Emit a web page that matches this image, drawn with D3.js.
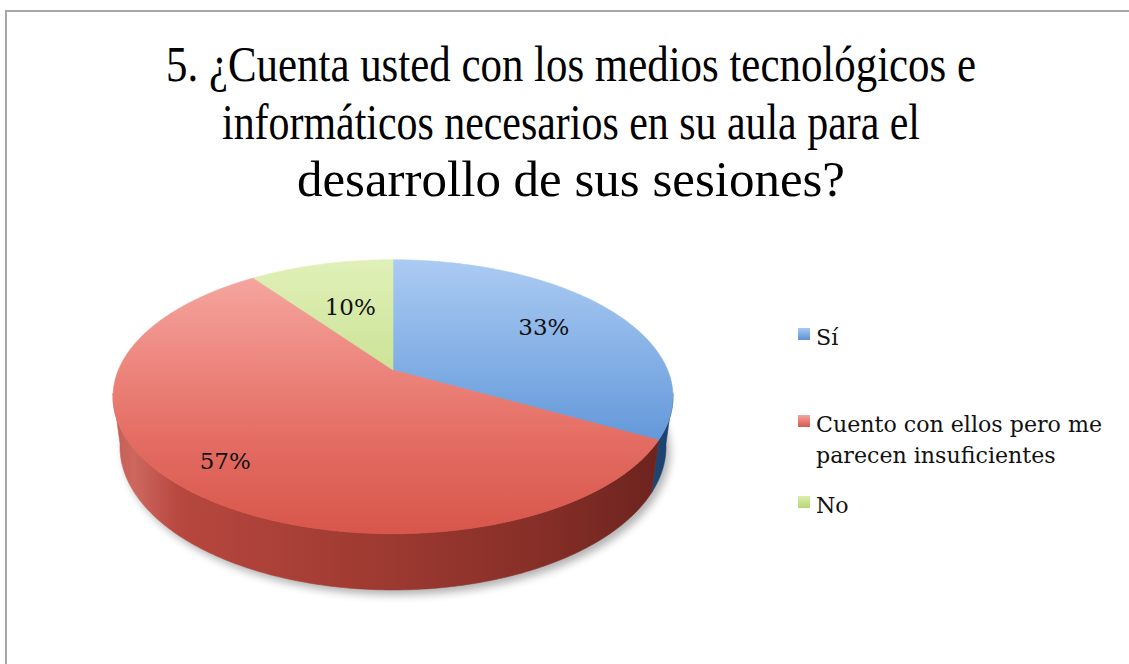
<!DOCTYPE html>
<html>
<head>
<meta charset="utf-8">
<script src="https://cdn.jsdelivr.net/npm/d3@7"></script>
<style>
  body { margin: 0; background: #fff; }
  svg { display: block; }
</style>
</head>
<body>
<div id="chart"></div>
<script>
// ── data ────────────────────────────────────────────────
const titleLines = [
  "5. ¿Cuenta usted con los medios tecnológicos e",
  "informáticos necesarios en su aula para el",
  "desarrollo de sus sesiones?"
];
const categories = ["Sí", "Cuento con ellos pero me parecen insuficientes", "No"];
const legendLines = [["Sí"], ["Cuento con ellos pero me", "parecen insuficientes"], ["No"]];
const values = [33, 57, 10];
const pctLabels = ["33%", "57%", "10%"];

// ── styles (top face / wall / legend swatch) ────────────
const topStops = [
  [[0, "#abcbf3"], [0.45, "#7aa9e2"], [0.75, "#5a91d5"], [1, "#4a84cc"]],
  [[0, "#f6aca5"], [0.3, "#ef8e86"], [0.65, "#e46d63"], [1, "#d8564b"]],
  [[0, "#e0f0b8"], [0.45, "#c9e293"], [1, "#b2d36e"]]
];
const wallStops = [
  [[0, "#2f64a0"], [0.8, "#2a5b93"], [1, "#1b416c"]],
  [[0, "#c55a51"], [0.04, "#cd685f"], [0.12, "#b7473f"], [0.45, "#a03b32"], [0.75, "#872f28"], [1, "#6a221d"]],
  [[0, "#8aaa4c"], [1, "#5f7a2c"]]
];
const swatchStops = [
  ["#a9c9f2", "#5b91d3"],
  ["#f4a59e", "#d9574c"],
  ["#dbeeae", "#b6d673"]
];

const W = 1129, H = 664;
const svg = d3.select("#chart").append("svg").attr("width", W).attr("height", H);
const defs = svg.append("defs");

// frame (runs off the right / bottom edge like the source)
svg.append("rect")
  .attr("x", 6).attr("y", 11).attr("width", W + 20).attr("height", H + 20)
  .attr("fill", "none").attr("stroke", "#a6a6a6").attr("stroke-width", 2);

// title
const titleW = [810, 698, 548];
svg.append("g").selectAll("text").data(titleLines).join("text")
  .attr("x", 571).attr("y", (d, i) => 81 + i * 57.5)
  .attr("text-anchor", "middle")
  .attr("font-family", "'Liberation Serif','Times New Roman',serif")
  .attr("font-size", 50).attr("fill", "#000")
  .attr("textLength", (d, i) => titleW[i]).attr("lengthAdjust", "spacingAndGlyphs")
  .text(d => d);

// ── 3d pie: simple perspective camera ───────────────────
const tilt = 31 * Math.PI / 180;
const P = { cx: 393, vy: 370, f: 1206, D: 4.5, s: Math.sin(tilt), c: Math.cos(tilt), h: 0.21 };
const cy = P.vy + P.f * P.h * P.c / (P.D - P.h * P.s);

function proj(a, r, Y) {
  const X = r * Math.sin(a), Z = -r * Math.cos(a);
  const depth = P.D - Y * P.s - Z * P.c;
  return [P.cx + P.f * X / depth, cy + P.f * (Z * P.s - Y * P.c) / depth];
}
function arcPts(a0, a1, Y) {
  const n = Math.max(2, Math.ceil(Math.abs(a1 - a0) / 0.01));
  return d3.range(n + 1).map(i => proj(a0 + (a1 - a0) * i / n, 1, Y));
}
const line = d3.line().curve(d3.curveLinear);

const arcs = d3.pie().sort(null).value(d => d)(values);

// gradients
arcs.forEach((d, i) => {
  const tg = defs.append("linearGradient").attr("id", "top" + i)
    .attr("gradientUnits", "userSpaceOnUse")
    .attr("x1", 0).attr("x2", 0)
    .attr("y1", proj(0, 1, P.h)[1]).attr("y2", proj(Math.PI, 1, P.h)[1]);
  topStops[i].forEach(s => tg.append("stop").attr("offset", s[0]).attr("stop-color", s[1]));
  const wg = defs.append("linearGradient").attr("id", "wall" + i)
    .attr("gradientUnits", "userSpaceOnUse")
    .attr("y1", 0).attr("y2", 0)
    .attr("x1", P.cx - 282).attr("x2", P.cx + 282);
  wallStops[i].forEach(s => wg.append("stop").attr("offset", s[0]).attr("stop-color", s[1]));
  const sg = defs.append("linearGradient").attr("id", "sw" + i)
    .attr("x1", 0).attr("x2", 0).attr("y1", 0).attr("y2", 1);
  sg.append("stop").attr("offset", 0).attr("stop-color", swatchStops[i][0]);
  sg.append("stop").attr("offset", 1).attr("stop-color", swatchStops[i][1]);
});

const blur = defs.append("filter").attr("id", "shadow")
  .attr("x", "-20%").attr("y", "-20%").attr("width", "140%").attr("height", "140%");
blur.append("feGaussianBlur").attr("stdDeviation", 4);

const pie = svg.append("g");

// soft shadow under the disc
pie.append("path")
  .attr("d", line(arcPts(0, 2 * Math.PI, 0)) + "Z")
  .attr("transform", "translate(4,5)")
  .attr("fill", "#000").attr("opacity", 0.3)
  .attr("filter", "url(#shadow)");

// outer walls, only the part facing the viewer
const aR = Math.acos(-P.c / P.D) - 0.02, aL = 2 * Math.PI - aR;
arcs.forEach((d, i) => {
  const lo = Math.max(d.startAngle, aR), hi = Math.min(d.endAngle, aL);
  if (lo >= hi) return;
  const pts = arcPts(lo, hi, P.h).concat(arcPts(hi, lo, 0));
  pie.append("path").attr("d", line(pts) + "Z")
    .attr("fill", `url(#wall${i})`)
    .attr("stroke", `url(#wall${i})`).attr("stroke-width", 0.6);
});

// top faces
const vtx = proj(0, 0, P.h);
arcs.forEach((d, i) => {
  const pts = [vtx].concat(arcPts(d.startAngle, d.endAngle, P.h));
  pie.append("path").attr("d", line(pts) + "Z")
    .attr("fill", `url(#top${i})`)
    .attr("stroke", `url(#top${i})`).attr("stroke-width", 0.6);
});

// data labels (small slices sit nearer the centre)
const labelFont = "'DejaVu Serif','Liberation Serif',serif";
arcs.forEach((d, i) => {
  const mid = (d.startAngle + d.endAngle) / 2;
  const p = d.value / d3.sum(values);
  const [x, y] = proj(mid, 0.5 + 0.55 * p, P.h);
  pie.append("text")
    .attr("x", x).attr("y", y + 8)
    .attr("text-anchor", "middle")
    .attr("font-family", labelFont).attr("font-size", 23).attr("fill", "#111")
    .text(pctLabels[i]);
});

// ── legend ──────────────────────────────────────────────
const legY = [345, 432, 513];
const lg = svg.append("g");
const probe = lg.append("text").attr("font-family", labelFont).attr("font-size", 23)
  .text(legendLines[1][0]);
const kx = 286 / probe.node().getComputedTextLength();
probe.remove();

legendLines.forEach((lines, i) => {
  lg.append("rect")
    .attr("x", 798).attr("y", legY[i] - 17).attr("width", 12).attr("height", 12)
    .attr("fill", `url(#sw${i})`);
  lines.forEach((t, j) => {
    const txt = lg.append("text")
      .attr("x", 816).attr("y", legY[i] + j * 31)
      .attr("font-family", labelFont).attr("font-size", 23).attr("fill", "#111")
      .text(t);
    const w = txt.node().getComputedTextLength();
    txt.attr("textLength", w * kx).attr("lengthAdjust", "spacingAndGlyphs");
  });
});
</script>
</body>
</html>
